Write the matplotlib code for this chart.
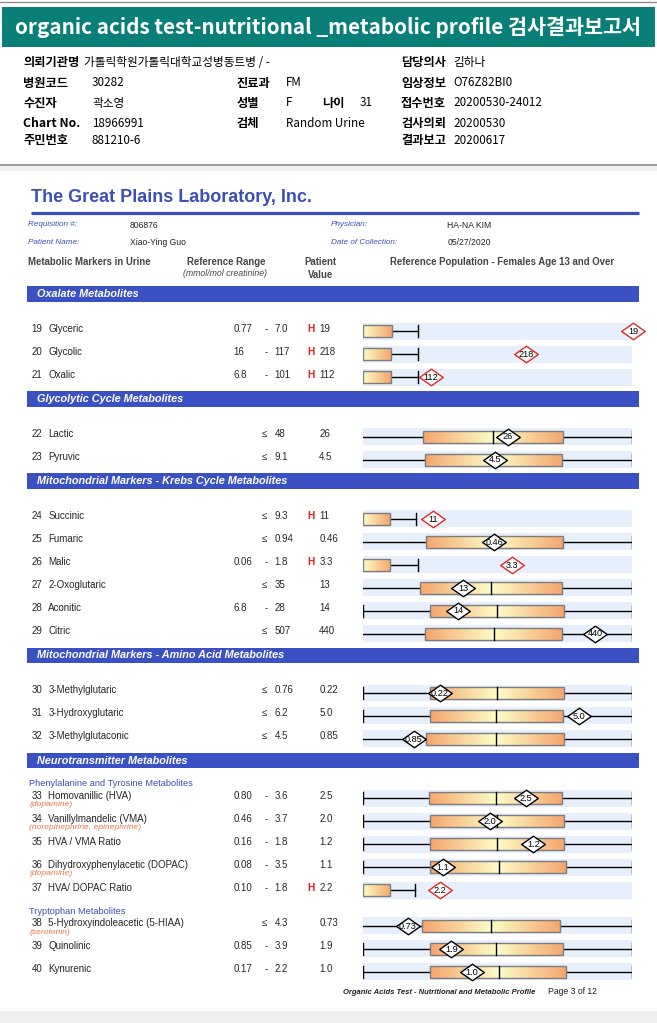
import matplotlib.pyplot as plt
import numpy as np
from matplotlib.patches import Rectangle
from matplotlib.path import Path

plt.rcParams['font.family'] = ['Liberation Sans', 'DejaVu Sans']

# ---- data -------------------------------------------------------------
info_left = [('의뢰기관명', '가톨릭학원가톨릭대학교성병동트병 / -'),
             ('병원코드', '30282'), ('수진자', '곽소영'),
             ('Chart No.', '18966991'), ('주민번호', '881210-6')]
info_mid = [None, ('진료과', 'FM'), ('성별', 'F'), ('검체', 'Random Urine'), None]
info_right = [('담당의사', '김하나'), ('임상정보', 'O76Z82BI0'), ('접수번호', '20200530-24012'),
              ('검사의뢰', '20200530'), ('결과보고', '20200617')]

sections = ['Oxalate Metabolites', 'Glycolytic Cycle Metabolites',
            'Mitochondrial Markers - Krebs Cycle Metabolites',
            'Mitochondrial Markers - Amino Acid Metabolites',
            'Neurotransmitter Metabolites']

numbers = list(range(19, 41))
names = ['Glyceric', 'Glycolic', 'Oxalic', 'Lactic', 'Pyruvic', 'Succinic', 'Fumaric',
         'Malic', '2-Oxoglutaric', 'Aconitic', 'Citric', '3-Methylglutaric',
         '3-Hydroxyglutaric', '3-Methylglutaconic', 'Homovanillic (HVA)',
         'Vanillylmandelic (VMA)', 'HVA / VMA Ratio', 'Dihydroxyphenylacetic (DOPAC)',
         'HVA/ DOPAC Ratio', '5-Hydroxyindoleacetic (5-HIAA)', 'Quinolinic', 'Kynurenic']
notes = [''] * 14 + ['(dopamine)', '(norepinephrine, epinephrine)', '', '(dopamine)', '',
                     '(serotonin)', '', '']
subgroup = [''] * 14 + ['Phenylalanine and Tyrosine Metabolites', '', '', '', '',
                        'Tryptophan Metabolites', '', '']
section_of = [0, 0, 0, 1, 1, 2, 2, 2, 2, 2, 2, 3, 3, 3, 4, 4, 4, 4, 4, 4, 4, 4]
ref_low = ['0.77', '16', '6.8', '', '', '', '', '0.06', '', '6.8', '', '', '', '',
           '0.80', '0.46', '0.16', '0.08', '0.10', '', '0.85', '0.17']
ref_high = ['7.0', '117', '101', '48', '9.1', '9.3', '0.94', '1.8', '35', '28', '507',
            '0.76', '6.2', '4.5', '3.6', '3.7', '1.8', '3.5', '1.8', '4.3', '3.9', '2.2']
values = ['19', '218', '112', '26', '4.5', '11', '0.46', '3.3', '13', '14', '440',
          '0.22', '5.0', '0.85', '2.5', '2.0', '1.2', '1.1', '2.2', '0.73', '1.9', '1.0']

# population scale (0-100 across the graph column)
box_lo = [0, 0, 0, 22.3, 23.1, 0, 23.6, 0, 21.3, 25.0, 23.1, 25.0, 25.0, 23.6,
          24.7, 25.0, 25.0, 25.0, 0, 22.0, 25.0, 25.0]
box_med = [None, None, None, 48.5, 48.7, None, 48.8, None, 47.7, 49.9, 48.8, 49.9, 49.6,
           49.3, 49.3, 49.8, 49.9, 50.4, None, 47.7, 49.6, 50.4]
box_hi = [10.6, 10.4, 10.4, 74.5, 73.8, 9.9, 74.5, 10.2, 73.8, 74.8, 74.1, 74.8, 74.5,
          74.8, 73.8, 74.8, 74.8, 75.3, 10.2, 73.4, 74.5, 75.3]
whisker_hi = [20.3, 20.3, 20.3, 100, 100, 19.7, 100, 20.5, 100, 100, 100, 100, 100, 100,
              100, 100, 100, 100, 19.2, 100, 100, 100]
left_tick = [0, 0, 0, 0, 0, 0, 0, 0, 0, 1, 0, 1, 1, 0, 1, 1, 1, 1, 0, 0, 1, 1]
marker_pos = [100.5, 60.5, 25.2, 53.8, 49.1, 26.2, 48.8, 55.4, 37.2, 35.3, 86.2, 28.6,
              80.3, 18.9, 60.5, 47.3, 63.3, 29.7, 28.6, 16.6, 32.8, 40.6]

n = len(names)
is_high = [float(v) > float(h) for v, h in zip(values, ref_high)]

# ---- figure -----------------------------------------------------------
W, H = 657, 1023
fig = plt.figure(figsize=(W / 100, H / 100), dpi=100)
ax = fig.add_axes([0, 0, 1, 1])
bx = fig.add_axes([363 / W, 0, (632 - 363) / W, 1])
for a in (ax, bx):
    a.axis('off')
renderer = fig.canvas.get_renderer()


def fit(t, width):
    w = t.get_window_extent(renderer).width
    t.set_fontsize(t.get_fontsize() * width / w)


teal = '#0a7f78'
blue = '#3b50c2'
dark = '#262626'
kr = ['Noto Sans CJK KR', 'DejaVu Sans']

# top frame
ax.plot([0, W], [1.5, 1.5], color='#909090', lw=1)
ax.add_patch(Rectangle((1.7, 7.3), W - 3.4, 39.4, fc=teal, ec='none'))
t = ax.text(14.7, 27.5, 'organic acids test-nutritional _metabolic profile 검사결과보고서',
            color='white', fontsize=14, weight='bold', va='center', family=kr)
fit(t, 628)

info_y = [62.5, 83, 103, 123.5, 140.5]
for i, yy in enumerate(info_y):
    lab, val = info_left[i]
    ax.text(23, yy, lab, fontsize=8.8, weight='bold', va='center', family=kr)
    ax.text(84 if i == 0 else 92, yy, val, fontsize=8.4, va='center', family=kr)
    if info_mid[i]:
        lab, val = info_mid[i]
        ax.text(236.7, yy, lab, fontsize=8.8, weight='bold', va='center', family=kr)
        ax.text(286, yy, val, fontsize=8.4, va='center', family=kr)
    lab, val = info_right[i]
    ax.text(401, yy, lab, fontsize=8.8, weight='bold', va='center', family=kr)
    ax.text(453.7, yy, val, fontsize=8.4, va='center', family=kr)
ax.text(322.6, info_y[2], '나이', fontsize=8.8, weight='bold', va='center', family=kr)
ax.text(360, info_y[2], '31', fontsize=8.4, va='center', family=kr)

ax.plot([0, W], [165, 165], color='#8c8c8c', lw=1.2)
ax.add_patch(Rectangle((0, 165.5), W, 5, fc='#efefef', ec='none'))
ax.add_patch(Rectangle((0, 1011), W, 12, fc='#efefef', ec='none'))

# report heading
t = ax.text(31.4, 197.7, 'The Great Plains Laboratory, Inc.', color='#3c4fb4',
            weight='bold', fontsize=13, va='center')
fit(t, 280)
ax.plot([31.4, 638.9], [212.7, 212.7], color='#3c4fb4', lw=2.3, solid_capstyle='butt')

small = dict(fontsize=5.9, style='italic', color='#3c4fb4', va='center')
ax.text(28.5, 225, 'Requisition #:', **small)
ax.text(28.5, 242.7, 'Patient Name:', **small)
ax.text(331, 225, 'Physician:', **small)
ax.text(331, 242.7, 'Date of Collection:', **small)
ax.text(130, 225, '806876', fontsize=6.2, va='center', color='#222222')
ax.text(130, 242.7, 'Xiao-Ying Guo', fontsize=6.2, va='center', color='#222222')
ax.text(447.4, 225, 'HA-NA KIM', fontsize=6.2, va='center', color='#222222')
ax.text(447.4, 242.7, '05/27/2020', fontsize=6.2, va='center', color='#222222')

hdr = dict(fontsize=6.9, weight='bold', color='#444444', va='center')
ax.text(28.5, 261.7, 'Metabolic Markers in Urine', **hdr)
ax.text(226, 261.7, 'Reference Range', ha='center', **hdr)
ax.text(225, 274, '(mmol/mol creatinine)', ha='center', fontsize=6.3, style='italic',
        color='#444444', va='center')
ax.text(320.5, 261.7, 'Patient', ha='center', **hdr)
ax.text(320.5, 275, 'Value', ha='center', **hdr)
ax.text(389.6, 261.7, 'Reference Population - Females Age 13 and Over', **hdr)

# ---- layout of the rows ----------------------------------------------
row_y = [0.0] * n
header_y = []
sub_pos = []
y = 293.8
for s in range(len(sections)):
    header_y.append(y)
    first = True
    for i in range(n):
        if section_of[i] != s:
            continue
        if subgroup[i]:
            y += 23.3 if first else 21.0
            sub_pos.append((subgroup[i], y))
            y += 14.6
        else:
            y += 37.6 if first else 22.95
        row_y[i] = y
        first = False
    y += 21.7

for title, yy in zip(sections, header_y):
    ax.add_patch(Rectangle((26.8, yy - 7.8), 612, 15.6, fc=blue, ec='none'))
    ax.text(37, yy, title, color='white', weight='bold', style='italic', fontsize=7.8,
            va='center')
for title, yy in sub_pos:
    ax.text(29.3, yy, title, color='#3c4fb4', fontsize=6.7, va='center')

orange = np.array([0.96, 0.65, 0.43])
pale = np.array([0.99, 0.99, 0.78])
diamond = Path([(-1, 0), (0, 0.7), (1, 0), (0, -0.7), (-1, 0)],
               [Path.MOVETO, Path.LINETO, Path.LINETO, Path.LINETO, Path.CLOSEPOLY])

for i in range(n):
    yy = row_y[i]
    ty = yy - 2.5
    ax.text(31.5, ty, str(numbers[i]), fontsize=7, color=dark, va='center')
    ax.text(48.2, ty, names[i], fontsize=7, color=dark, va='center')
    if notes[i]:
        ax.text(29.3, yy + 6.3, notes[i], fontsize=6.1, style='italic', color='#f07345',
                va='center')
    if ref_low[i]:
        ax.text(233.3, ty, ref_low[i], fontsize=7, color=dark, va='center')
        ax.text(264.8, ty, '-', fontsize=7, color=dark, va='center')
    else:
        ax.text(261.8, ty, '≤', fontsize=7, color=dark, va='center')
    ax.text(274.4, ty, ref_high[i], fontsize=7, color=dark, va='center')
    if is_high[i]:
        ax.text(307, ty, 'H', fontsize=7.4, color='#e02020', weight='bold', va='center')
    ax.text(319.2, ty, values[i], fontsize=7, color=dark, va='center')

    # graph column
    bx.add_patch(Rectangle((0, yy - 8.4), 100, 16.8, fc='#e7effc', ec='none', zorder=1))
    lo, hi, med = box_lo[i], box_hi[i], box_med[i]
    bx.plot([0, whisker_hi[i]], [yy, yy], color='black', lw=1, zorder=2)
    bx.plot([whisker_hi[i]] * 2, [yy - 6, yy + 6], color='black', lw=1, zorder=2)
    if left_tick[i]:
        bx.plot([0, 0], [yy - 6, yy + 6], color='black', lw=1, zorder=2)
    xs = np.linspace(lo, hi, 200)
    if med is None:
        frac = (xs - lo) / (hi - lo)
    else:
        frac = np.where(xs < med, (med - xs) / (med - lo), (xs - med) / (hi - med))
    img = pale[None, :] + frac[:, None] * (orange - pale)[None, :]
    bx.imshow(img[None, :, :], extent=(lo, hi, yy + 6, yy - 6), aspect='auto',
              interpolation='bilinear', zorder=3)
    bx.add_patch(Rectangle((lo, yy - 6), hi - lo, 12, fc='none', ec='#7d7d7d', lw=1,
                           zorder=4))
    if med is not None:
        bx.plot([med, med], [yy - 6, yy + 6], color='black', lw=1, zorder=4)
    ec = '#e02828' if is_high[i] else 'black'
    bx.plot([marker_pos[i]], [yy], ls='none', marker=diamond, ms=17, mfc='white',
            mec=ec, mew=1, zorder=5, clip_on=False)
    bx.text(marker_pos[i], yy + 0.3, values[i], fontsize=6.6, ha='center', va='center',
            zorder=6, clip_on=False)

t = ax.text(342.7, 992, 'Organic Acids Test - Nutritional and Metabolic Profile',
            fontsize=6, style='italic', weight='bold', color='#222222', va='center')
fit(t, 195)
ax.text(547.6, 991.5, 'Page 3 of 12', fontsize=6.2, color='#222222', va='center')

ax.set_xlim(0, W)
ax.set_ylim(H, 0)
bx.set_xlim(0, 100)
bx.set_ylim(H, 0)
fig.savefig('out.png', dpi=100)
